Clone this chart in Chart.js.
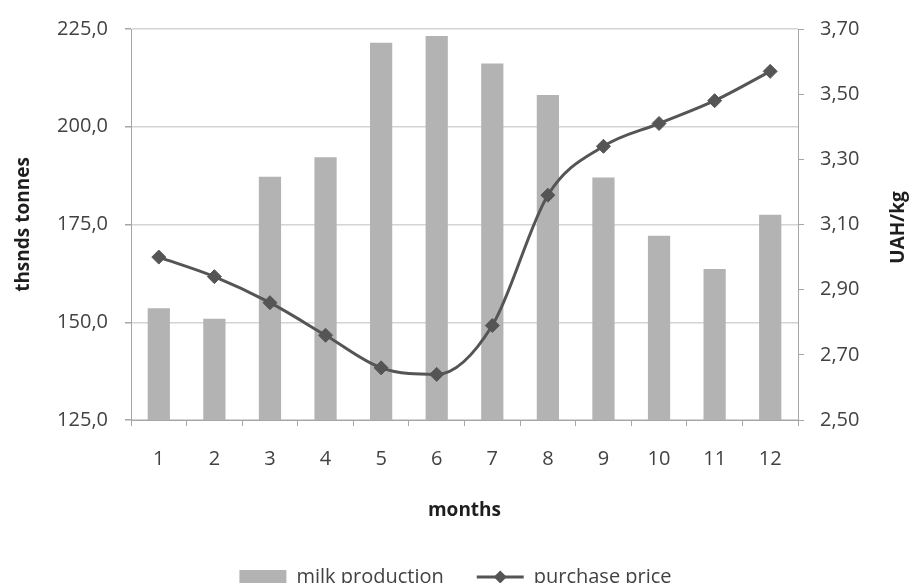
<!DOCTYPE html>
<html>
<head>
<meta charset="utf-8">
<script src="https://cdn.jsdelivr.net/npm/chart.js@4/dist/chart.umd.min.js"></script>
<style>
  html, body { margin: 0; padding: 0; background: #fff; overflow: hidden; }
  #wrap { width: 911px; height: 597px; }
</style>
</head>
<body>
<div id="wrap"><canvas id="c" width="911" height="597"></canvas></div>
<script>
// Monthly milk production (thsnds tonnes) and purchase price (UAH/kg)
const months = ['1', '2', '3', '4', '5', '6', '7', '8', '9', '10', '11', '12'];
const milkProduction = [153.6, 150.9, 187.2, 192.2, 221.5, 223.2, 216.2, 208.1, 187.0, 172.1, 163.6, 177.5];
const purchasePrice = [3.00, 2.94, 2.86, 2.76, 2.66, 2.64, 2.79, 3.19, 3.34, 3.41, 3.48, 3.57];
const leftTickLabels = ['125,0', '150,0', '175,0', '200,0', '225,0'];
const rightTickLabels = ['2,50', '2,70', '2,90', '3,10', '3,30', '3,50', '3,70'];

const BAR_COLOR = '#b3b3b3';
const LINE_COLOR = '#555555';
const TEXT_COLOR = '#424242';
const TITLE_COLOR = '#1e1e1e';
const AXIS_COLOR = '#a6a6a6';
const GRID_COLOR = '#d4d4d4';
const FONT = '"Open Sans", "DejaVu Sans", sans-serif';

// Right-hand axis title, reading bottom to top
const rightTitle = {
  id: 'rightTitle',
  afterDraw(chart) {
    const s = chart.scales.y2;
    const ctx = chart.ctx;
    ctx.save();
    ctx.translate(s.right - 12, (s.top + s.bottom) / 2 + 3);
    ctx.rotate(-Math.PI / 2);
    ctx.font = 'bold 19px ' + FONT;
    ctx.fillStyle = TITLE_COLOR;
    ctx.textAlign = 'center';
    ctx.textBaseline = 'middle';
    ctx.fillText('UAH/kg', 0, 0);
    ctx.restore();
  }
};

// Diamond marker on the line sample of the legend
const legendMarker = {
  id: 'legendMarker',
  afterDraw(chart) {
    const lg = chart.legend;
    if (!lg || !lg.legendHitBoxes || lg.legendHitBoxes.length < 2) return;
    const box = lg.legendHitBoxes[1];
    const bw = lg.options.labels.pointStyleWidth;
    const cx = box.left + bw / 2;
    const cy = box.top + box.height / 2;
    const r = 6.5;
    const ctx = chart.ctx;
    ctx.save();
    ctx.fillStyle = LINE_COLOR;
    ctx.beginPath();
    ctx.moveTo(cx, cy - r);
    ctx.lineTo(cx + r, cy);
    ctx.lineTo(cx, cy + r);
    ctx.lineTo(cx - r, cy);
    ctx.closePath();
    ctx.fill();
    ctx.restore();
  }
};

function build() {
  new Chart(document.getElementById('c'), {
    data: {
      labels: months,
      datasets: [
        {
          type: 'bar',
          label: 'milk production',
          data: milkProduction,
          backgroundColor: BAR_COLOR,
          borderWidth: 0,
          yAxisID: 'y',
          categoryPercentage: 1,
          barPercentage: 0.4,
          order: 2
        },
        {
          type: 'line',
          label: 'purchase price',
          data: purchasePrice,
          borderColor: LINE_COLOR,
          backgroundColor: LINE_COLOR,
          borderWidth: 3,
          cubicInterpolationMode: 'monotone',
          pointStyle: 'rectRot',
          pointRadius: 7,
          pointBackgroundColor: LINE_COLOR,
          pointBorderColor: LINE_COLOR,
          pointBorderWidth: 1,
          yAxisID: 'y2',
          order: 1
        }
      ]
    },
    options: {
      responsive: false,
      animation: false,
      devicePixelRatio: 1,
      layout: { padding: { top: 29, left: 0, right: 0, bottom: 0 } },
      plugins: {
        tooltip: { enabled: false },
        legend: {
          position: 'bottom',
          labels: {
            usePointStyle: true,
            pointStyleWidth: 47,
            boxHeight: 14,
            padding: 33,
            color: TEXT_COLOR,
            font: { family: FONT, size: 20 },
            generateLabels() {
              return [
                { text: 'milk production', pointStyle: 'rect', fillStyle: BAR_COLOR, strokeStyle: BAR_COLOR, lineWidth: 0, datasetIndex: 0, fontColor: TEXT_COLOR },
                { text: 'purchase price', pointStyle: 'line', fillStyle: LINE_COLOR, strokeStyle: LINE_COLOR, lineWidth: 3, datasetIndex: 1, fontColor: TEXT_COLOR }
              ];
            }
          }
        }
      },
      scales: {
        x: {
          type: 'category',
          offset: true,
          grid: { offset: true, drawOnChartArea: false, drawTicks: true, tickLength: 6, color: AXIS_COLOR, lineWidth: 1 },
          border: { color: AXIS_COLOR, width: 1 },
          ticks: { color: TEXT_COLOR, font: { family: FONT, size: 20 }, padding: 21, maxRotation: 0 },
          title: { display: true, text: 'months', color: TITLE_COLOR, font: { family: FONT, size: 19, weight: 'bold' }, padding: { top: 4, bottom: 12 } },
          afterFit(s) { s.height = 114; }
        },
        y: {
          type: 'linear',
          position: 'left',
          min: 125, max: 225,
          ticks: {
            stepSize: 25,
            color: TEXT_COLOR,
            font: { family: FONT, size: 20 },
            padding: 17,
            callback: (v, i) => leftTickLabels[i]
          },
          grid: {
            color: GRID_COLOR, lineWidth: 1.5, tickLength: 6, tickColor: AXIS_COLOR,
            drawTicks: true
          },
          border: { color: AXIS_COLOR, width: 1 },
          title: { display: true, text: 'thsnds tonnes', color: TITLE_COLOR, font: { family: FONT, size: 19, weight: 'bold' }, padding: { top: 12, bottom: 4 } },
          afterFit(s) { s.width = 131; }
        },
        y2: {
          type: 'linear',
          position: 'right',
          min: 2.5, max: 3.7,
          ticks: {
            stepSize: 0.2,
            color: TEXT_COLOR,
            font: { family: FONT, size: 20 },
            padding: 16,
            callback: (v, i) => rightTickLabels[i]
          },
          grid: { drawOnChartArea: false, drawTicks: true, tickLength: 6, color: AXIS_COLOR },
          border: { color: AXIS_COLOR, width: 1 },
          afterFit(s) { s.width = 113; }
        }
      }
    },
    plugins: [rightTitle, legendMarker]
  });
}

Promise.all([
  document.fonts.load('20px "Open Sans"'),
  document.fonts.load('bold 19px "Open Sans"')
]).then(build, build);
</script>
</body>
</html>
